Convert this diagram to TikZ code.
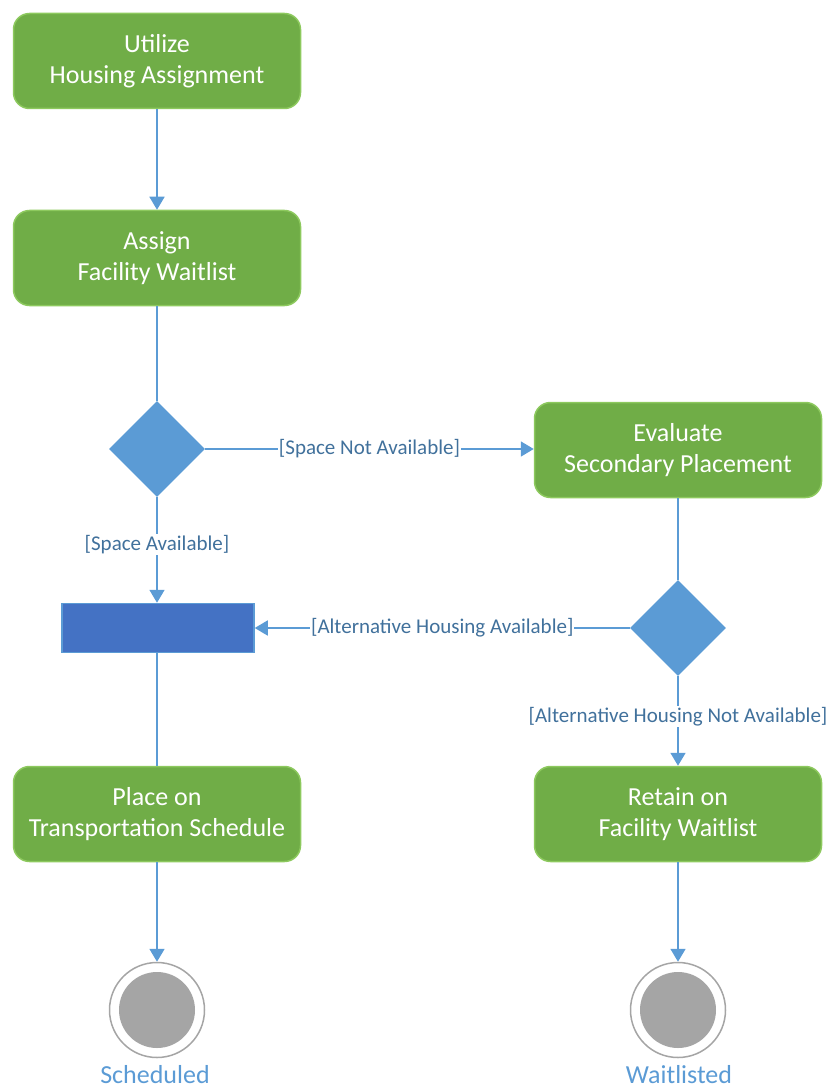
\documentclass[tikz,border=0pt]{standalone}
\usepackage{fontspec}
\setmainfont{Carlito}
\usetikzlibrary{shapes.geometric,arrows.meta}
\definecolor{actgreen}{HTML}{70AD47}
\definecolor{actedge}{HTML}{8DC95E}
\definecolor{flowblue}{HTML}{5B9BD5}
\definecolor{barblue}{HTML}{4472C4}
\definecolor{guardblue}{HTML}{41719C}
\definecolor{endgray}{HTML}{A5A5A5}
\tikzset{
  activity/.style={draw=actedge, line width=1.5pt, fill=actgreen, rounded corners=16pt,
    minimum width=287pt, minimum height=95pt, align=center, text=white, font=\fontsize{26}{31}\selectfont},
  decision/.style={diamond, fill=flowblue, minimum width=96pt, minimum height=96pt, inner sep=0pt},
  forkbar/.style={draw=flowblue, line width=1.5pt, fill=barblue, minimum width=192pt, minimum height=49pt, inner sep=0pt},
  finalstate/.style={circle, draw=endgray, line width=1.5pt, fill=white, minimum size=95pt, inner sep=0pt},
  flow/.style={draw=flowblue, line width=1.8pt},
  arr/.style={flow, -{Triangle[width=15pt,length=13pt]}},
  guard/.style={fill=white, text=guardblue, inner sep=1pt, font=\fontsize{21}{24}\selectfont},
  endlabel/.style={text=flowblue, font=\fontsize{26}{30}\selectfont}
}
\begin{document}
\begin{tikzpicture}[x=1pt,y=-1pt]
\useasboundingbox (0,0) rectangle (832,1091);
\node[activity] (utilize) at (157,61) {Utilize\\Housing Assignment};
\node[activity] (assign) at (157,258) {Assign\\Facility Waitlist};
\node[decision] (space) at (157,449) {};
\node[activity] (evaluate) at (678,450) {Evaluate\\Secondary Placement};
\node[forkbar] (bar) at (158,628) {};
\node[decision] (alt) at (678,628) {};
\node[activity] (place) at (157,814) {Place on\\Transportation Schedule};
\node[activity] (retain) at (678,814) {Retain on\\Facility Waitlist};
\node[finalstate] (endS) at (157,1010) {};
\node[finalstate] (endW) at (678,1010) {};
\fill[endgray] (endS) circle (38);
\fill[endgray] (endW) circle (38);
\node[endlabel] (scheduled) at (155,1075) {Scheduled};
\node[endlabel] (waitlisted) at (679,1075) {Waitlisted};

\draw[arr] (utilize) -- (assign);
\draw[flow] (assign) -- (space);
\draw[arr] (space) -- node[guard] {[Space Not Available]} (space -| evaluate.west);
\draw[arr] (space.south) -- node[guard, pos=0.45] {[Space Available]} (space.south |- bar.north);
\draw[flow] (evaluate) -- (alt);
\draw[arr] (alt) -- node[guard] {[Alternative Housing Available]} (bar);
\draw[arr] (alt) -- node[guard, pos=0.45] {[Alternative Housing Not Available]} (retain);
\draw[flow] (bar.south -| place.north) -- (place);
\draw[arr] (place) -- (endS);
\draw[arr] (retain) -- (endW);
\end{tikzpicture}
\end{document}
